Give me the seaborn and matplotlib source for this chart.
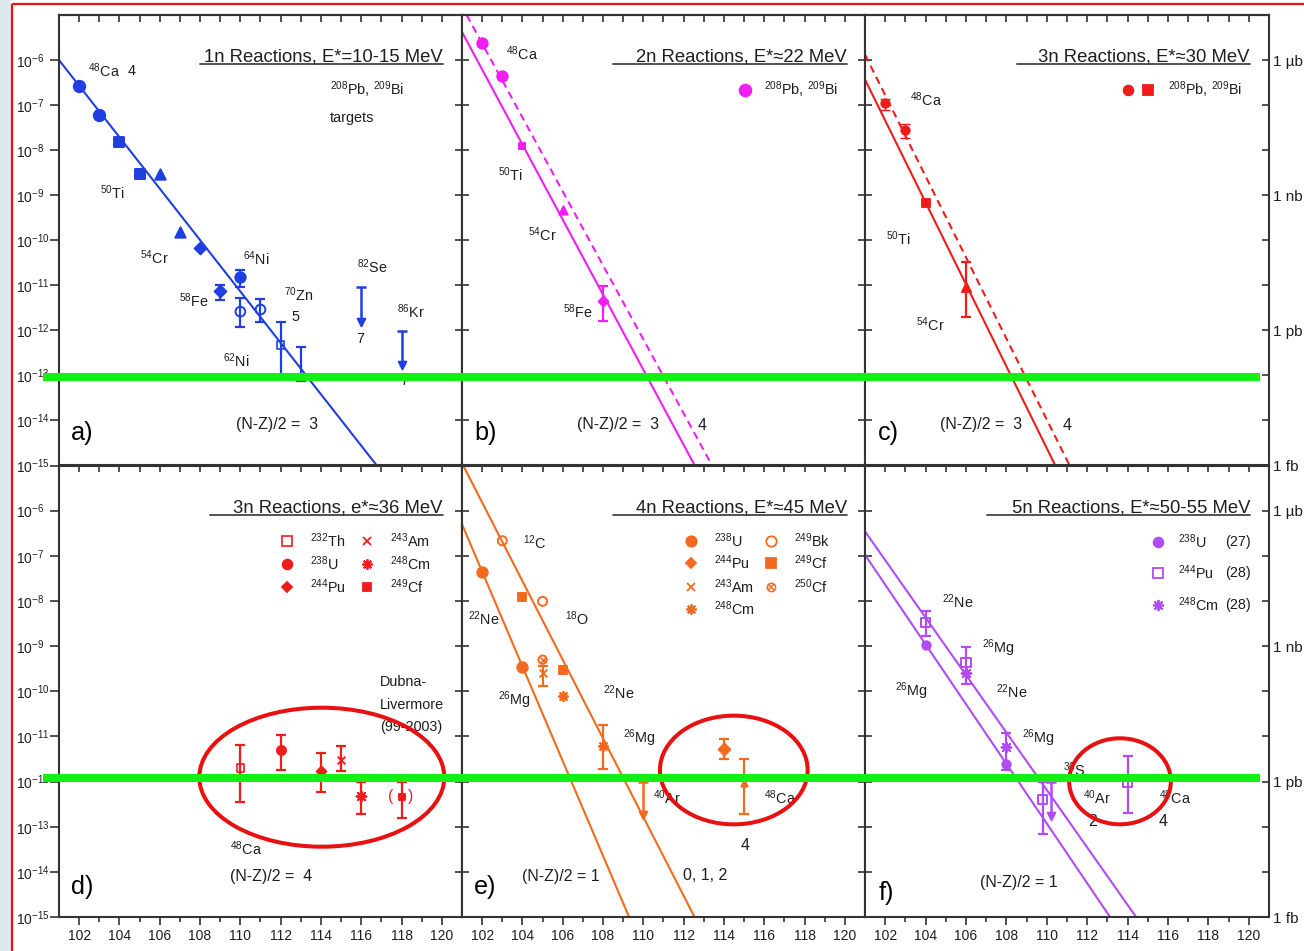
import numpy as np
import pandas as pd
import matplotlib
matplotlib.use("Agg")
import matplotlib.pyplot as plt
import seaborn as sns
from matplotlib import font_manager as fm
from matplotlib.patches import Ellipse, Rectangle
from matplotlib.lines import Line2D
from matplotlib.markers import MarkerStyle
import matplotlib.ticker as mticker

# ---------------- data: cross sections (barn) vs Z ----------------
# a) 1n reactions, 208Pb / 209Bi targets
a_ca_Z, a_ca_s = [102, 103], [2.6e-7, 6.1e-8]
a_ti_Z, a_ti_s = [104, 105], [1.55e-8, 2.9e-9]
a_cr_Z, a_cr_s = [106, 107], [3.0e-9, 1.55e-10]
a_fe_Z, a_fe_s = [108, 109], [6.6e-11, 7.5e-12]
a_fe_eZ, a_fe_lo, a_fe_hi = [109], [4.7e-12], [1.02e-11]
a_ni64_Z, a_ni64_s, a_ni64_lo, a_ni64_hi = [110], [1.5e-11], [9.0e-12], [2.2e-11]
a_ni62_Z, a_ni62_s = [110, 111], [2.6e-12, 2.9e-12]
a_ni62_lo, a_ni62_hi = [1.17e-12, 1.55e-12], [5.1e-12, 4.9e-12]
a_zn_Z, a_zn_s, a_zn_lo, a_zn_hi = [112], [4.7e-13], [8.7e-14], [1.55e-12]
a_nh_Z, a_nh_lo, a_nh_hi = [113], [7.5e-14], [4.2e-13]
a_lim_Z, a_lim_top, a_lim_tip = [116, 118], [9.0e-12, 9.6e-13], [1.55e-12, 1.7e-13]
a_fit_Z, a_fit_s = [101, 116.77], [1e-6, 1e-15]

# b) 2n reactions
b_ca_Z, b_ca_s = [102, 103], [2.39e-6, 4.4e-7]
b_ti_Z, b_ti_s = [104], [1.26e-8]
b_cr_Z, b_cr_s = [106], [4.7e-10]
b_fe_Z, b_fe_s, b_fe_lo, b_fe_hi = [108], [4.5e-12], [1.6e-12], [9.8e-12]
b_fit_Z, b_fit_s = [101, 112.55], [4.2e-6, 1e-15]
b_fit2_Z, b_fit2_s = [101.23, 113.41], [1e-5, 1e-15]

# c) 3n reactions, 30 MeV
c_ca_Z, c_ca_s = [102, 103], [1.1e-7, 2.8e-8]
c_ca_lo, c_ca_hi = [7.9e-8, 1.85e-8], [1.38e-7, 3.84e-8]
c_ti_Z, c_ti_s = [104], [6.6e-10]
c_cr_Z, c_cr_s, c_cr_lo, c_cr_hi = [106], [9.3e-12], [2.0e-12], [3.3e-11]
c_fit_Z, c_fit_s = [101, 110.42], [3.7e-7, 1e-15]
c_fit2_Z, c_fit2_s = [101, 111.13], [1.32e-6, 1e-15]

# d) 3n reactions, 48Ca + actinides
d_th_Z, d_th_s, d_th_lo, d_th_hi = [110], [2.0e-12], [3.5e-13], [6.6e-12]
d_u_Z, d_u_s, d_u_lo, d_u_hi = [112], [4.9e-12], [1.77e-12], [1.09e-11]
d_pu_Z, d_pu_s, d_pu_lo, d_pu_hi = [114], [1.68e-12], [5.9e-13], [4.2e-12]
d_am_Z, d_am_s, d_am_lo, d_am_hi = [115], [3.05e-12], [1.68e-12], [6.0e-12]
d_cm_Z, d_cm_s, d_cm_lo, d_cm_hi = [116], [4.9e-13], [1.95e-13], [9.8e-13]
d_cf_Z, d_cf_s, d_cf_lo, d_cf_hi = [118], [4.6e-13], [1.56e-13], [9.8e-13]

# e) 4n reactions
e_u_Z, e_u_s = [102, 104], [4.3e-8, 3.45e-10]
e_bk_Z, e_bk_s = [103, 105], [2.16e-7, 9.8e-9]
e_cf9_Z, e_cf9_s = [104, 106], [1.2e-8, 2.9e-10]
e_cf0_Z, e_cf0_s = [105], [5.0e-10]
e_am_Z, e_am_s, e_am_lo, e_am_hi = [105], [2.5e-10], [1.33e-10], [3.56e-10]
e_cm_Z, e_cm_s = [106, 108], [7.7e-11, 6.2e-12]
e_cm_eZ, e_cm_lo, e_cm_hi = [108], [1.93e-12], [1.8e-11]
e_pu_Z, e_pu_s, e_pu_lo, e_pu_hi = [114], [5.3e-12], [3.2e-12], [8.8e-12]
e_ca_Z, e_ca_s, e_ca_lo, e_ca_hi = [115], [9.3e-13], [1.95e-13], [3.2e-12]
e_lim_Z, e_lim_top, e_lim_tip = [110], [9.6e-13], [1.85e-13]
e_fit_Z, e_fit_s = [101, 109.29], [5.0e-7, 1e-15]
e_fit2_Z, e_fit2_s = [101.06, 112.54], [1e-5, 1e-15]

# f) 5n reactions
f_u_Z, f_u_s = [104, 108], [1.08e-9, 2.5e-12]
f_pu_Z, f_pu_s = [104, 106, 109.8, 114], [3.4e-9, 4.4e-10, 4.0e-13, 9.3e-13]
f_pu_lo, f_pu_hi = [1.7e-9, 1.48e-10, 7.0e-14, 2.0e-13], [5.9e-9, 9.6e-10, 9.6e-13, 3.6e-12]
f_cm_Z, f_cm_s = [106, 108], [2.5e-10, 5.8e-12]
f_cm_eZ, f_cm_lo, f_cm_hi = [108], [1.84e-12], [1.19e-11]
f_lim_Z, f_lim_top, f_lim_tip = [110.2], [9.6e-13], [1.77e-13]
f_fit_Z, f_fit_s = [101, 114.42], [3.47e-7, 1e-15]
f_fit2_Z, f_fit2_s = [101, 113.13], [1.05e-7, 1e-15]

x_major = list(range(102, 121, 2))
x_minor = list(range(103, 120, 2))
decades = [10.0 ** k for k in range(-15, -5)]
unit_labels = {-6: "1 µb", -9: "1 nb", -12: "1 pb", -15: "1 fb"}

# ---------------- style ----------------
sns.set_style("ticks")
avail = {f.name for f in fm.fontManager.ttflist}
FONT = "Liberation Sans Narrow" if "Liberation Sans Narrow" in avail else "Liberation Sans"
K = 1.0 if FONT.endswith("Narrow") else 0.86
plt.rcParams["font.family"] = [FONT, "DejaVu Sans"]
plt.rcParams["mathtext.fontset"] = "custom"
plt.rcParams["mathtext.rm"] = FONT
plt.rcParams["mathtext.it"] = FONT + ":italic"
plt.rcParams["mathtext.bf"] = FONT + ":bold"

FS_YTICK, FS_XTICK, FS_RIGHT = 10, 10, 11
FS_TITLE, FS_ISO, FS_SMALL, FS_LET, FS_LEG = 13.3, 12 * K, 11.5, 21 * K, 12 * K
TXT = "#1e1e1e"
SPINE = "#333333"
BLUE, MAG, RED, ORA, PUR = "#1f3fe0", "#f01ef0", "#f01c1c", "#f26a1e", "#b04cf2"

W, H = 1304, 951
fig = plt.figure(figsize=(W / 100, H / 100), dpi=100)
fig.patch.set_facecolor("white")
COLS = [(59, 462), (462, 865), (865, 1269)]
ROWS = [(15, 465.5), (465.5, 917)]
YLAB_LEFT_PX = 16      # left edge of the 10^-n labels
YTICK_LEN_PT = 6.5


def frac(ax, px, py):
    p = ax.get_position()
    return (px / W - p.x0) / p.width, ((1 - py / H) - p.y0) / p.height


def put(ax, px, py, s, size, color=TXT, ha="left", va="center", **kw):
    fx, fy = frac(ax, px, py)
    ax.text(fx, fy, s, transform=ax.transAxes, fontsize=size, color=color,
            ha=ha, va=va, clip_on=False, zorder=6, **kw)


def title(ax, text, x_end, x_start, base_py, line_py):
    put(ax, x_end, base_py, text, FS_TITLE, ha="right", va="baseline")
    f0, fy = frac(ax, x_start, line_py)
    f1, _ = frac(ax, x_end, line_py)
    ax.add_line(Line2D([f0, f1], [fy, fy], transform=ax.transAxes, color="#444444", lw=1.3))


def pts(ax, Z, s, color, marker="o", size=7, hollow=False, lw=1.4, z=4):
    kw = dict(x=list(Z), y=list(s), marker=marker, s=size ** 2, ax=ax, legend=False,
              zorder=z, linewidth=lw)
    if not MarkerStyle(marker).is_filled():
        sns.scatterplot(color=color, **kw)
    elif hollow:
        sns.scatterplot(color=color, facecolor="none", edgecolor=color, **kw)
    else:
        sns.scatterplot(color=color, edgecolor=color, **kw)


def ebar(ax, Z, lo, hi, color, cap=3.6, lw=1.6):
    lo, hi = np.asarray(lo, float), np.asarray(hi, float)
    ax.errorbar(Z, hi, yerr=[hi - lo, np.zeros_like(hi)], fmt="none", ecolor=color,
                elinewidth=lw, capsize=cap, capthick=lw, zorder=3)


def uplim(ax, Z, top, tip, color, lw=1.8):
    ax.vlines(Z, tip, top, colors=color, lw=lw, zorder=3)
    pts(ax, Z, top, color, "_", 7.5, lw=lw)
    pts(ax, Z, tip, color, "v", 5.5)


def fit(ax, Z, s, color, dashed=False):
    kw = dict(linestyle=(0, (3.6, 2.4))) if dashed else {}
    sns.lineplot(x=Z, y=s, color=color, lw=1.5, ax=ax, estimator=None, sort=False, **kw)


def key(ax, px, py, color, marker, size, hollow=False, lw=1.3):
    fx, fy = frac(ax, px, py)
    ax.plot([fx], [fy], marker=marker, ms=size, mfc=("none" if hollow else color), mec=color,
            mew=lw, color=color, ls="none", transform=ax.transAxes, clip_on=False, zorder=6)


def style_ax(ax, c, r):
    ax.set_yscale("log")
    ax.set_xlim(101, 121)
    ax.set_ylim(1e-15, 1e-5)
    for sp in ax.spines.values():
        sp.set_color(SPINE)
        sp.set_linewidth(1.5)
    ax.xaxis.set_major_locator(mticker.FixedLocator(x_major))
    ax.xaxis.set_minor_locator(mticker.FixedLocator(x_minor))
    ax.tick_params(axis="x", which="major", direction="out", length=5.5, width=1.2,
                   color=SPINE, bottom=True, top=False, labelbottom=(r == 1),
                   labelsize=FS_XTICK, labelcolor=TXT, pad=3)
    ax.tick_params(axis="x", which="minor", direction="out", length=3.5, width=1.2,
                   color=SPINE, bottom=True, top=False)
    sec = ax.secondary_xaxis("top")
    sec.set_xticks(list(range(102, 121)))
    sec.tick_params(axis="x", which="major", direction="in", length=5, width=1.2,
                    color=SPINE, labeltop=False)
    sec.tick_params(axis="x", which="minor", length=0)
    for sp in sec.spines.values():
        sp.set_color(SPINE)
        sp.set_linewidth(1.5)
    ax.yaxis.set_major_locator(mticker.FixedLocator(decades))
    ax.yaxis.set_minor_locator(mticker.NullLocator())
    if c == 0:
        ax.yaxis.set_major_formatter(mticker.LogFormatterSciNotation(base=10))
        pad_pt = (COLS[0][0] - YLAB_LEFT_PX) * 0.72 - YTICK_LEN_PT
        ax.tick_params(axis="y", which="major", direction="out", length=YTICK_LEN_PT,
                       width=1.2, color=SPINE, left=True, right=False, labelleft=True,
                       labelsize=FS_YTICK, labelcolor=TXT, pad=pad_pt)
        for lab in ax.get_yticklabels():
            lab.set_horizontalalignment("left")
        sy = ax.secondary_yaxis("right")
        sy.set_yticks(decades)
        sy.tick_params(axis="y", which="major", direction="in", length=5, width=1.2,
                       color=SPINE, labelright=False)
        sy.tick_params(axis="y", which="minor", length=0)
        for sp in sy.spines.values():
            sp.set_color(SPINE)
            sp.set_linewidth(1.5)
    else:
        ax.tick_params(axis="y", which="major", direction="in", length=5, width=1.2,
                       color=SPINE, left=True, right=True, labelleft=False,
                       labelright=(c == 2), labelsize=FS_RIGHT, labelcolor=TXT, pad=3)
        if c == 2:
            ax.yaxis.set_major_formatter(mticker.FuncFormatter(
                lambda v, p: unit_labels.get(int(round(np.log10(v))), "")))


axs = {}
for r, (t, b) in enumerate(ROWS):
    for c, (l, rr) in enumerate(COLS):
        ax = fig.add_axes([l / W, 1 - b / H, (rr - l) / W, (b - t) / H])
        ax.set_yscale("log")
        axs[(r, c)] = ax

A, B, C = axs[(0, 0)], axs[(0, 1)], axs[(0, 2)]
D, E, F = axs[(1, 0)], axs[(1, 1)], axs[(1, 2)]

# ---------------- panel a ----------------
fit(A, a_fit_Z, a_fit_s, BLUE)
pts(A, a_ca_Z, a_ca_s, BLUE, "o", 8.2)
pts(A, a_ti_Z, a_ti_s, BLUE, "s", 7)
pts(A, a_cr_Z, a_cr_s, BLUE, "^", 7.5)
pts(A, a_fe_Z, a_fe_s, BLUE, "D", 6)
ebar(A, a_fe_eZ, a_fe_lo, a_fe_hi, BLUE)
ebar(A, a_ni64_Z, a_ni64_lo, a_ni64_hi, BLUE)
pts(A, a_ni64_Z, a_ni64_s, BLUE, "o", 7.5)
ebar(A, a_ni62_Z, a_ni62_lo, a_ni62_hi, BLUE)
pts(A, a_ni62_Z, a_ni62_s, BLUE, "o", 7, hollow=True)
ebar(A, a_zn_Z, a_zn_lo, a_zn_hi, BLUE)
pts(A, a_zn_Z, a_zn_s, BLUE, "s", 5.5, hollow=True, lw=1.2)
ebar(A, a_nh_Z, a_nh_lo, a_nh_hi, BLUE)
uplim(A, a_lim_Z, a_lim_top, a_lim_tip, BLUE)

# ---------------- panel b ----------------
fit(B, b_fit_Z, b_fit_s, MAG)
fit(B, b_fit2_Z, b_fit2_s, MAG, dashed=True)
pts(B, b_ca_Z, b_ca_s, MAG, "o", 7.5)
pts(B, b_ti_Z, b_ti_s, MAG, "s", 5)
pts(B, b_cr_Z, b_cr_s, MAG, "^", 6)
ebar(B, b_fe_Z, b_fe_lo, b_fe_hi, MAG)
pts(B, b_fe_Z, b_fe_s, MAG, "D", 5)

# ---------------- panel c ----------------
fit(C, c_fit_Z, c_fit_s, RED)
fit(C, c_fit2_Z, c_fit2_s, RED, dashed=True)
ebar(C, c_ca_Z, c_ca_lo, c_ca_hi, RED, lw=1.0)
pts(C, c_ca_Z, c_ca_s, RED, "o", 6)
pts(C, c_ti_Z, c_ti_s, RED, "s", 5.5)
ebar(C, c_cr_Z, c_cr_lo, c_cr_hi, RED)
pts(C, c_cr_Z, c_cr_s, RED, "^", 6.5)

# ---------------- panel d ----------------
for Z, s, lo, hi in [(d_th_Z, d_th_s, d_th_lo, d_th_hi), (d_u_Z, d_u_s, d_u_lo, d_u_hi),
                     (d_pu_Z, d_pu_s, d_pu_lo, d_pu_hi), (d_am_Z, d_am_s, d_am_lo, d_am_hi),
                     (d_cm_Z, d_cm_s, d_cm_lo, d_cm_hi), (d_cf_Z, d_cf_s, d_cf_lo, d_cf_hi)]:
    ebar(D, Z, lo, hi, RED)
pts(D, d_th_Z, d_th_s, RED, "s", 5.5, hollow=True, lw=1.2)
pts(D, d_u_Z, d_u_s, RED, "o", 6.5)
pts(D, d_pu_Z, d_pu_s, RED, "D", 5)
pts(D, d_am_Z, d_am_s, RED, "x", 5.5, lw=1.4)
pts(D, d_cm_Z, d_cm_s, RED, (8, 2, 0), 7, lw=1.4)
pts(D, d_cf_Z, d_cf_s, RED, "s", 5)

# ---------------- panel e ----------------
fit(E, e_fit_Z, e_fit_s, ORA)
fit(E, e_fit2_Z, e_fit2_s, ORA)
pts(E, e_u_Z, e_u_s, ORA, "o", 7.5)
pts(E, e_bk_Z, e_bk_s, ORA, "o", 6.5, hollow=True)
pts(E, e_cf9_Z, e_cf9_s, ORA, "s", 5.5)
pts(E, e_cf0_Z, e_cf0_s, ORA, "o", 6, hollow=True)
pts(E, e_cf0_Z, e_cf0_s, ORA, "x", 4, lw=1.2)
ebar(E, e_am_Z, e_am_lo, e_am_hi, ORA)
pts(E, e_am_Z, e_am_s, ORA, "x", 5.5)
ebar(E, e_cm_eZ, e_cm_lo, e_cm_hi, ORA)
pts(E, e_cm_Z, e_cm_s, ORA, (8, 2, 0), 6.5)
uplim(E, e_lim_Z, e_lim_top, e_lim_tip, ORA)
ebar(E, e_pu_Z, e_pu_lo, e_pu_hi, ORA)
pts(E, e_pu_Z, e_pu_s, ORA, "D", 6)
ebar(E, e_ca_Z, e_ca_lo, e_ca_hi, ORA)
pts(E, e_ca_Z, e_ca_s, ORA, "^", 4.5)

# ---------------- panel f ----------------
fit(F, f_fit_Z, f_fit_s, PUR)
fit(F, f_fit2_Z, f_fit2_s, PUR)
ebar(F, f_pu_Z, f_pu_lo, f_pu_hi, PUR)
pts(F, f_pu_Z, f_pu_s, PUR, "s", 6.5, hollow=True)
pts(F, f_u_Z, f_u_s, PUR, "o", 6)
ebar(F, f_cm_eZ, f_cm_lo, f_cm_hi, PUR)
pts(F, f_cm_Z, f_cm_s, PUR, (8, 2, 0), 7)
uplim(F, f_lim_Z, f_lim_top, f_lim_tip, PUR)

for (r, c), ax in axs.items():
    style_ax(ax, c, r)

# ---------------- text: panel a ----------------
title(A, "1n Reactions, E*=10-15 MeV", 443, 200, 61.5, 63.5)
for s, px, py in [("$^{48}$Ca", 88, 71), ("4", 128, 71), ("$^{50}$Ti", 100, 193),
                  ("$^{54}$Cr", 140, 258), ("$^{58}$Fe", 179, 301), ("$^{64}$Ni", 243, 259),
                  ("$^{62}$Ni", 223, 361), ("$^{70}$Zn", 284, 295), ("5", 291, 317),
                  ("$^{82}$Se", 357, 267), ("7", 356, 339), ("$^{86}$Kr", 397, 312),
                  ("7", 400, 381), ("$^{208}$Pb, $^{209}$Bi", 330, 90), ("targets", 330, 118)]:
    put(A, px, py, s, FS_ISO)
put(A, 236, 425, "(N-Z)/2 =  3", FS_SMALL)
put(A, 71, 433, "a)", FS_LET, color="black")

# ---------------- panel b ----------------
title(B, "2n Reactions, E*≈22 MeV", 847, 613, 61.5, 63.5)
for s, px, py in [("$^{48}$Ca", 506, 54), ("$^{50}$Ti", 498, 175), ("$^{54}$Cr", 528, 235),
                  ("$^{58}$Fe", 563, 312)]:
    put(B, px, py, s, FS_ISO)
put(B, 577, 425, "(N-Z)/2 =  3", FS_SMALL)
put(B, 698, 425, "4", FS_SMALL)
put(B, 474, 433, "b)", FS_LET, color="black")
key(B, 745, 90, MAG, "o", 8.5)
put(B, 764, 90, "$^{208}$Pb, $^{209}$Bi", FS_LEG)

# ---------------- panel c ----------------
title(C, "3n Reactions, E*≈30 MeV", 1250, 1017, 61.5, 63.5)
for s, px, py in [("$^{48}$Ca", 910, 100), ("$^{50}$Ti", 886, 239), ("$^{54}$Cr", 916, 325)]:
    put(C, px, py, s, FS_ISO)
put(C, 940, 425, "(N-Z)/2 =  3", FS_SMALL)
put(C, 1063, 425, "4", FS_SMALL)
put(C, 878, 433, "c)", FS_LET, color="black")
key(C, 1128, 90, RED, "o", 7)
key(C, 1148, 90, RED, "s", 6.5)
put(C, 1168, 90, "$^{208}$Pb, $^{209}$Bi", FS_LEG)

# ---------------- panel d ----------------
title(D, "3n Reactions, e*≈36 MeV", 443, 210, 512.5, 515)
put(D, 230, 849, "$^{48}$Ca", FS_ISO)
put(D, 230, 877, "(N-Z)/2 =  4", FS_SMALL)
put(D, 380, 682, "Dubna-", FS_ISO)
put(D, 380, 705, "Livermore", FS_ISO)
put(D, 380, 727, "(99-2003)", FS_ISO)
put(D, 388, 797, "(", 13 * K, color=RED)
put(D, 408, 797, ")", 13 * K, color=RED)
put(D, 71, 887, "d)", FS_LET, color="black")
key(D, 287, 541, RED, "s", 6.5, hollow=True, lw=1.2)
key(D, 287, 564, RED, "o", 7)
key(D, 287, 587, RED, "D", 5)
key(D, 367, 541, RED, "x", 6)
key(D, 367, 564, RED, (8, 2, 0), 7.5)
key(D, 367, 587, RED, "s", 5.5)
for s, px, py in [("$^{232}$Th", 310, 541), ("$^{238}$U", 310, 564), ("$^{244}$Pu", 310, 587),
                  ("$^{243}$Am", 390, 541), ("$^{248}$Cm", 390, 564), ("$^{249}$Cf", 390, 587)]:
    put(D, px, py, s, FS_LEG)

# ---------------- panel e ----------------
title(E, "4n Reactions, E*≈45 MeV", 847, 613, 512.5, 515)
for s, px, py in [("$^{12}$C", 523, 543), ("$^{22}$Ne", 468, 619), ("$^{18}$O", 565, 619),
                  ("$^{26}$Mg", 498, 700), ("$^{22}$Ne", 603, 693), ("$^{26}$Mg", 623, 738),
                  ("$^{40}$Ar", 653, 798), ("$^{48}$Ca", 764, 798)]:
    put(E, px, py, s, FS_ISO)
put(E, 741, 845, "4", FS_SMALL)
put(E, 522, 876, "(N-Z)/2 = 1", FS_SMALL)
put(E, 683, 876, "0, 1, 2", FS_SMALL)
put(E, 474, 887, "e)", FS_LET, color="black")
key(E, 691, 541, ORA, "o", 7.5)
key(E, 691, 563, ORA, "D", 5.5)
key(E, 691, 587, ORA, "x", 6)
key(E, 691, 609, ORA, (8, 2, 0), 7.5)
key(E, 771, 541, ORA, "o", 7.5, hollow=True)
key(E, 771, 563, ORA, "s", 7)
key(E, 771, 587, ORA, "o", 6, hollow=True, lw=1.1)
key(E, 771, 587, ORA, "x", 4, lw=1.1)
for s, px, py in [("$^{238}$U", 714, 541), ("$^{244}$Pu", 714, 563), ("$^{243}$Am", 714, 587),
                  ("$^{248}$Cm", 714, 609), ("$^{249}$Bk", 794, 541), ("$^{249}$Cf", 794, 563),
                  ("$^{250}$Cf", 794, 587)]:
    put(E, px, py, s, FS_LEG)

# ---------------- panel f ----------------
title(F, "5n Reactions, E*≈50-55 MeV", 1250, 987, 512.5, 515)
for s, px, py in [("$^{22}$Ne", 942, 602), ("$^{26}$Mg", 982, 648), ("$^{26}$Mg", 895, 691),
                  ("$^{22}$Ne", 996, 692), ("$^{26}$Mg", 1022, 738), ("$^{36}$S", 1063, 770),
                  ("$^{40}$Ar", 1083, 798), ("$^{48}$Ca", 1159, 798)]:
    put(F, px, py, s, FS_ISO)
put(F, 1088, 822, "2", FS_SMALL)
put(F, 1159, 822, "4", FS_SMALL)
put(F, 980, 882, "(N-Z)/2 = 1", FS_SMALL)
put(F, 879, 893, "f)", FS_LET, color="black")
key(F, 1158, 542, PUR, "o", 7)
key(F, 1158, 573, PUR, "s", 7, hollow=True)
key(F, 1158, 605, PUR, (8, 2, 0), 8)
for s, px, py in [("$^{238}$U", 1178, 542), ("$^{244}$Pu", 1178, 573), ("$^{248}$Cm", 1178, 605),
                  ("(27)", 1225, 542), ("(28)", 1225, 573), ("(28)", 1225, 605)]:
    put(F, px, py, s, FS_LEG)

# ---------------- overlay highlights ----------------
ov = fig.add_axes([0, 0, 1, 1], zorder=20)
ov.set_xlim(0, W)
ov.set_ylim(H, 0)
ov.axis("off")
ov.patch.set_alpha(0)
ov.add_patch(Rectangle((0, 0), 11, H, color="#dde9ef", lw=0))
ov.plot([11.5, 11.5], [3.5, H], color="#ee1111", lw=1.6, solid_capstyle="butt")
ov.plot([11.5, W], [3.5, 3.5], color="#ee1111", lw=1.6, solid_capstyle="butt")
for gy in (377, 777.5):
    ov.plot([43, 1260], [gy, gy], color="#14f014", lw=5.8, solid_capstyle="butt")
for (cx, cy, ew, eh) in [(321.8, 777.2, 245, 139), (733.8, 770, 147.7, 108.7),
                         (1120, 781.3, 101.7, 86)]:
    ov.add_patch(Ellipse((cx, cy), ew, eh, fill=False, ec="#e81010", lw=2.9))

fig.savefig("out.png", dpi=100)
